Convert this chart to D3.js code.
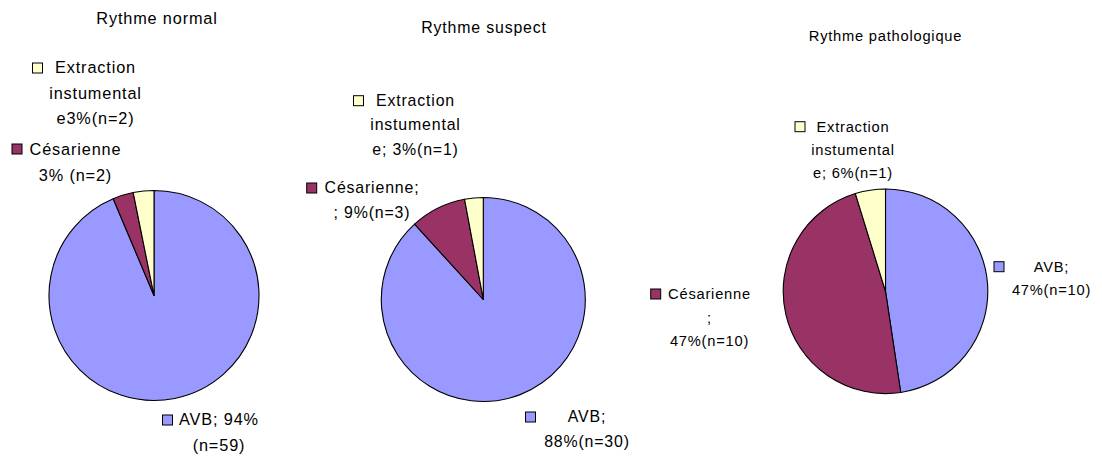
<!DOCTYPE html>
<html>
<head>
<meta charset="utf-8">
<script src="https://cdn.jsdelivr.net/npm/d3@7"></script>
<style>
  body { margin: 0; background: #fff; }
  text { font-family: "Liberation Sans", Arial, sans-serif; fill: #000; }
</style>
</head>
<body>
<div id="chart"></div>
<script>
(function(){
  // data
  const categories = ["AVB", "Césarienne", "Extraction instumentale"];
  const titles = ["Rythme normal", "Rythme suspect", "Rythme pathologique"];
  const counts = [
    [59, 2, 2],
    [30, 3, 1],
    [10, 10, 1]
  ];
  // data label text, as wrapped in the original (AVB, Césarienne, Extraction)
  const labelText = [
    [["AVB; 94%", "(n=59)"], ["Césarienne", "3% (n=2)"], ["Extraction", "instumental", "e3%(n=2)"]],
    [["AVB;", "88%(n=30)"], ["Césarienne;", "; 9%(n=3)"], ["Extraction", "instumental", "e; 3%(n=1)"]],
    [["AVB;", "47%(n=10)"], ["Césarienne", ";", "47%(n=10)"], ["Extraction", "instumental", "e; 6%(n=1)"]]
  ];

  const colors = d3.scaleOrdinal()
    .domain(categories)
    .range(["#9999FF", "#993366", "#FFFFCC"]);

  // layout of each pie panel (centre, radius, font, label anchors)
  const layout = [
    {cx: 154, cy: 295.5, r: 105, fs: 16.3, ls: 0.85, lh: 25.5, titleX: 157, titleY: 24,
     labels: [{x: 219, y: 425, kx: 162.5, ky: 415},
              {x: 75.5, y: 155, kx: 12, ky: 144},
              {x: 95.5, y: 73, kx: 32.5, ky: 63}]},
    {cx: 483.3, cy: 299.5, r: 102, fs: 15.9, ls: 0.83, lh: 24.7, titleX: 484, titleY: 33.3,
     labels: [{x: 587, y: 422.3, kx: 525.5, ky: 412},
              {x: 372, y: 193.3, kx: 306.7, ky: 183},
              {x: 415.5, y: 105.7, kx: 353.5, ky: 95.7}]},
    {cx: 885.5, cy: 291.3, r: 102.3, fs: 14.7, ls: 0.77, lh: 23.3, titleX: 885.5, titleY: 40.7,
     labels: [{x: 1051.5, y: 271.7, kx: 994, ky: 261.7},
              {x: 709.5, y: 299.3, kx: 650.7, ky: 289},
              {x: 853, y: 131.7, kx: 795, ky: 121.7}]}
  ];

  const width = 1102, height = 456;
  const svg = d3.select("#chart").append("svg")
    .attr("width", width)
    .attr("height", height);

  const pie = d3.pie().sort(null).value(d => d);

  titles.forEach((title, i) => {
    const L = layout[i];
    const g = svg.append("g");

    g.append("text")
      .attr("x", L.titleX)
      .attr("y", L.titleY)
      .attr("text-anchor", "middle")
      .style("font-size", L.fs + "px")
      .style("letter-spacing", L.ls + "px")
      .text(title);

    const arc = d3.arc().innerRadius(0).outerRadius(L.r);

    g.append("g")
      .attr("transform", `translate(${L.cx},${L.cy})`)
      .selectAll("path")
      .data(pie(counts[i]))
      .enter()
      .append("path")
      .attr("d", arc)
      .attr("fill", (d, j) => colors(categories[j]))
      .attr("stroke", "#000")
      .attr("stroke-width", 1.1)
      .attr("stroke-linejoin", "round");

    // data labels with legend key
    categories.forEach((cat, j) => {
      const p = L.labels[j];
      g.append("rect")
        .attr("x", p.kx)
        .attr("y", p.ky)
        .attr("width", 10)
        .attr("height", 10)
        .attr("fill", colors(cat))
        .attr("stroke", "#000")
        .attr("stroke-width", 1);

      g.append("g").selectAll("text")
        .data(labelText[i][j])
        .enter()
        .append("text")
        .attr("x", p.x)
        .attr("y", (d, k) => p.y + k * L.lh)
        .attr("text-anchor", "middle")
        .style("font-size", L.fs + "px")
        .style("letter-spacing", L.ls + "px")
        .text(d => d);
    });
  });
})();
</script>
</body>
</html>
